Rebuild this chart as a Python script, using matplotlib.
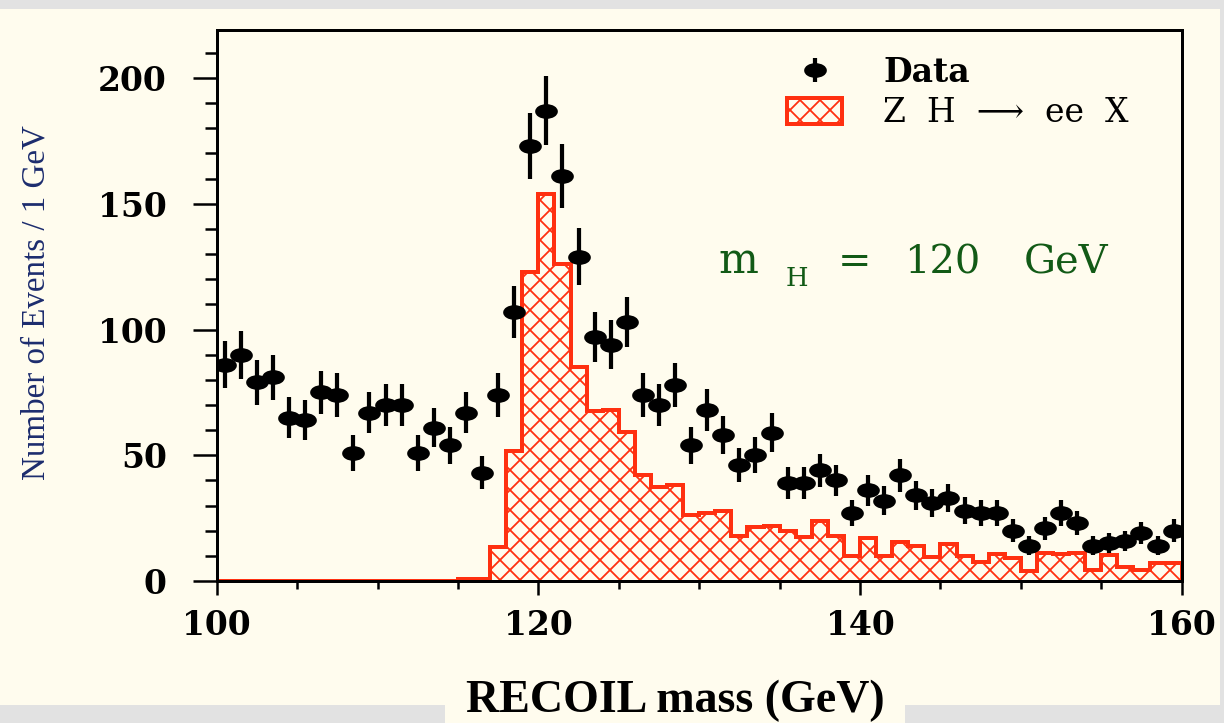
import numpy as np
import matplotlib
matplotlib.use("Agg")
import matplotlib.pyplot as plt
from matplotlib.path import Path
from matplotlib.markers import MarkerStyle
from matplotlib.patches import Patch, Rectangle
from matplotlib.ticker import MultipleLocator
from matplotlib.transforms import Affine2D
from matplotlib.container import ErrorbarContainer
from matplotlib.legend_handler import HandlerErrorbar

# ---------------- data ----------------
bin_edges = np.arange(100, 161, 1)            # 1 GeV bins, 100..160
bin_centers = bin_edges[:-1] + 0.5

data_counts = [86, 90, 79, 81, 65, 64, 75, 74, 51, 67,
               70, 70, 51, 61, 54, 67, 43, 74, 107, 173,
               187, 161, 129, 97, 94, 103, 74, 70, 78, 54,
               68, 58, 46, 50, 59, 39, 39, 44, 40, 27,
               36, 32, 42, 34, 31, 33, 28, 27, 27, 20,
               14, 21, 27, 23, 14, 15, 16, 19, 14, 20]
data_errors = [9.3, 9.5, 8.9, 9.0, 8.1, 8.0, 8.7, 8.6, 7.1, 8.2,
               8.4, 8.4, 7.1, 7.8, 7.3, 8.2, 6.6, 8.6, 10.3, 13.2,
               13.7, 12.7, 11.4, 9.8, 9.7, 10.1, 8.6, 8.4, 8.8, 7.3,
               8.2, 7.6, 6.8, 7.1, 7.7, 6.2, 6.2, 6.6, 6.3, 5.2,
               6.0, 5.7, 6.5, 5.8, 5.6, 5.7, 5.3, 5.2, 5.2, 4.5,
               3.7, 4.6, 5.2, 4.8, 3.7, 3.9, 4.0, 4.4, 3.7, 4.5]
zh_counts = [0, 0, 0, 0, 0, 0, 0, 0, 0, 0,
             0, 0, 0, 0, 0, 0.7, 0.7, 13.5, 51.5, 123,
             154, 126, 85, 67.5, 68, 59.3, 42.1, 37.3, 38.2, 26.2,
             26.9, 28, 18, 21.3, 21.9, 20, 17.4, 24, 17.9, 10,
             17, 10, 15.6, 13.9, 9.4, 14.7, 9.9, 7.7, 10.7, 9,
             4.1, 11, 10.7, 11, 4.4, 10.3, 5.4, 4.4, 7, 7]

xticks_major = [100, 120, 140, 160]
yticks_major = [0, 50, 100, 150, 200]
legend_labels = ["Data", "Z  H  \u27f6  ee  X"]

# ---------------- style ----------------
DPI = 120
W, H = 1224, 723
P = 72.0 / DPI           # pixels -> points
CREAM = "#fffcee"
GRAY = "#e2e2e2"
RED = "#ff3010"
GREEN = "#125a16"
NAVY = "#1c2c6e"

plt.rcParams["font.family"] = ["DejaVu Serif", "DejaVu Sans"]
plt.rcParams["hatch.linewidth"] = 1.8 * P


def fx(px):
    return px / W


def fy(py):
    return 1 - py / H


fig = plt.figure(figsize=(W / DPI, H / DPI), dpi=DPI, facecolor=GRAY)
# cream page area
fig.patches.append(Rectangle((0, fy(705)), fx(1220), fy(9) - fy(705),
                             transform=fig.transFigure, facecolor=CREAM,
                             edgecolor="none", zorder=-10))
fig.patches.append(Rectangle((fx(445), 0), fx(905) - fx(445), fy(700),
                             transform=fig.transFigure, facecolor=CREAM,
                             edgecolor="none", zorder=-10))

ax = fig.add_axes([fx(216.7), fy(581), fx(1181.7) - fx(216.7), fy(29.5) - fy(581)])
ax.set_facecolor("none")

# histogram (ZH signal)
ax.stairs(zh_counts, bin_edges, fill=True, facecolor=CREAM, edgecolor=RED,
          hatch="xx", linewidth=0, zorder=1)
ax.stairs(zh_counts, bin_edges, fill=False, edgecolor=RED, linewidth=4 * P,
          zorder=2)

# data points with ellipse markers
circ = Path.unit_circle()
ell = Path(Affine2D().scale(1.0, 0.62).transform(circ.vertices), circ.codes)
eb = ax.errorbar(bin_centers, data_counts, yerr=data_errors, marker=MarkerStyle(ell),
                 ms=21 * P, color="black", ls="none", elinewidth=4.2 * P,
                 capsize=0, zorder=3)

ax.set_xlim(100, 160)
ax.set_ylim(0, 219.3)

for s in ax.spines.values():
    s.set_linewidth(3 * P)
    s.set_color("black")

ax.set_xticks(xticks_major)
ax.set_yticks(yticks_major)
ax.xaxis.set_minor_locator(MultipleLocator(5))
ax.yaxis.set_minor_locator(MultipleLocator(10))
ax.tick_params(axis="x", which="major", direction="out", length=14 * P, width=2.5 * P,
               pad=14 * P, labelsize=33 * P)
ax.tick_params(axis="x", which="minor", direction="out", length=8 * P, width=2.5 * P)
ax.tick_params(axis="y", which="major", direction="out", length=24 * P, width=2.5 * P,
               pad=26 * P, labelsize=33 * P)
ax.tick_params(axis="y", which="minor", direction="out", length=12 * P, width=2.5 * P)
for lab in ax.get_xticklabels() + ax.get_yticklabels():
    lab.set_fontweight("bold")
    lab.set_family(["DejaVu Serif", "DejaVu Sans"])

# legend
patch_handle = Patch(facecolor=CREAM, edgecolor=RED, hatch="xx", linewidth=4 * P)
fs_px = 33.0
fs = fs_px * P
leg = ax.legend([eb, patch_handle], legend_labels, loc="upper left",
                bbox_to_anchor=(fx(787), fy(56)), bbox_transform=fig.transFigure,
                frameon=False, borderpad=0, borderaxespad=0,
                handlelength=55 / fs_px, handleheight=27 / fs_px,
                handletextpad=41 / fs_px, labelspacing=0.25, numpoints=1,
                prop={"family": ["DejaVu Serif", "DejaVu Sans"], "size": fs},
                handler_map={ErrorbarContainer: HandlerErrorbar(xerr_size=0.36)})
leg.get_texts()[0].set_fontweight("bold")

# m_H annotation
tkw = dict(transform=fig.transFigure, color=GREEN, va="baseline", ha="left",
           family=["DejaVu Serif", "DejaVu Sans"])
fig.text(fx(718), fy(273), "m", fontsize=42 * P, **tkw)
fig.text(fx(786), fy(286), "H", fontsize=26 * P, **tkw)
fig.text(fx(838), fy(273), "=", fontsize=40 * P, **tkw)
fig.text(fx(904), fy(274), "120", fontsize=40 * P, **tkw)
fig.text(fx(1024), fy(274), "GeV", fontsize=40 * P, **tkw)

# axis titles
fig.text(fx(675), fy(712), "RECOIL mass (GeV)", ha="center", va="baseline",
         family=["Liberation Serif", "DejaVu Serif"], weight="bold", fontsize=46 * P)
fig.text(fx(36), fy(303), "Number of Events / 1 GeV", rotation=90, ha="center",
         va="center", family=["Liberation Serif", "DejaVu Serif"], fontsize=33 * P,
         color=NAVY)

fig.savefig("out.png", dpi=DPI, facecolor=fig.get_facecolor())
